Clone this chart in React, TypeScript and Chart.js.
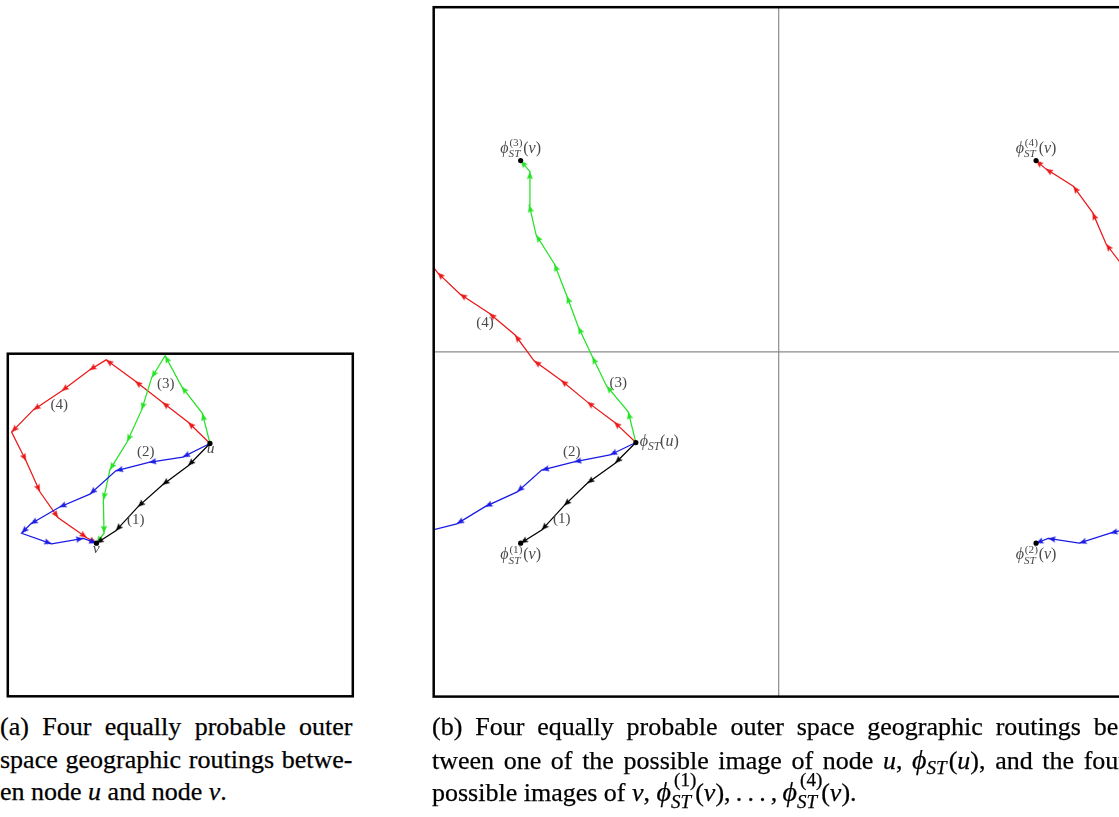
import React, { useEffect, useRef } from 'react';
import { Chart, registerables } from 'chart.js';

Chart.register(...registerables);

type Pt = [number, number];

// ---------- (a) the base square, unit coordinates, origin bottom-left ----------
const A_NODE_U: Pt = [0.586, 0.738];
const A_NODE_V: Pt = [0.257, 0.447];

const A_ROUTE_1: Pt[] = [
  [0.586, 0.738], [0.523, 0.673], [0.448, 0.617], [0.377, 0.553], [0.313, 0.483], [0.257, 0.447],
];
const A_ROUTE_2: Pt[] = [
  [0.586, 0.738], [0.507, 0.698], [0.409, 0.683], [0.313, 0.658], [0.238, 0.59], [0.149, 0.552],
  [0.066, 0.503], [0.04, 0.476], [0.127, 0.445], [0.219, 0.461], [0.257, 0.447],
];
const A_ROUTE_3: Pt[] = [
  [0.586, 0.738], [0.564, 0.826], [0.504, 0.904], [0.456, 0.994], [0.417, 0.93], [0.388, 0.836],
  [0.346, 0.743], [0.296, 0.661], [0.277, 0.573], [0.279, 0.476], [0.257, 0.447],
];
const A_ROUTE_4: Pt[] = [
  [0.586, 0.738], [0.523, 0.8], [0.448, 0.858], [0.369, 0.92], [0.285, 0.982], [0.236, 0.952],
  [0.156, 0.891], [0.074, 0.836], [0.011, 0.771], [0.053, 0.687], [0.093, 0.597], [0.146, 0.521],
  [0.229, 0.463], [0.257, 0.447],
];

const A_ROUTE_TAGS: Pt[] = [[0.371, 0.503], [0.4, 0.702], [0.458, 0.899], [0.149, 0.839]];
const A_U_TAG: Pt = [0.588, 0.709];
const A_V_TAG: Pt = [0.256, 0.418];

// ---------- (b) four images of the square, [0,2] x [0,2] ----------
const B_NODE_U: Pt = [0.586, 0.737];
const B_IMAGES_V: Pt[] = [[0.252, 0.445], [1.746, 0.445], [0.252, 1.555], [1.746, 1.555]];

const B_ROUTE_1: Pt[] = [
  [0.586, 0.737], [0.526, 0.677], [0.445, 0.619], [0.378, 0.554], [0.313, 0.483], [0.252, 0.445],
];
// route (2) leaves through the west side and comes back in through the east side
const B_ROUTE_2_WEST: Pt[] = [
  [0.586, 0.737], [0.511, 0.701], [0.407, 0.681], [0.313, 0.657], [0.242, 0.594], [0.149, 0.551],
  [0.067, 0.501], [-0.039, 0.474],
];
const B_ROUTE_2_EAST: Pt[] = [
  [2.067, 0.501], [1.961, 0.474], [1.871, 0.445], [1.781, 0.459], [1.746, 0.445],
];
const B_ROUTE_3: Pt[] = [
  [0.586, 0.737], [0.564, 0.826], [0.501, 0.901], [0.46, 0.986], [0.419, 1.073], [0.386, 1.162],
  [0.35, 1.255], [0.297, 1.339], [0.277, 1.426], [0.279, 1.523], [0.252, 1.555],
];
const B_ROUTE_4_WEST: Pt[] = [
  [0.586, 0.737], [0.523, 0.797], [0.445, 0.855], [0.369, 0.918], [0.291, 0.974], [0.236, 1.049],
  [0.161, 1.112], [0.076, 1.168], [0.011, 1.23], [-0.051, 1.313],
];
const B_ROUTE_4_EAST: Pt[] = [
  [2.012, 1.23], [1.949, 1.313], [1.91, 1.404], [1.854, 1.481], [1.774, 1.531], [1.746, 1.555],
];

const B_ROUTE_TAGS: Pt[] = [[0.371, 0.503], [0.4, 0.699], [0.535, 0.897], [0.149, 1.073]];
const B_U_TAG: Pt = [0.597, 0.727];
const B_IMAGE_TAGS: Pt[] = [[0.252, 0.398], [1.746, 0.398], [0.252, 1.577], [1.746, 1.577]];
const B_DIVIDERS = [1];

const ROUTE_NAMES = ['(1)', '(2)', '(3)', '(4)'];
const ROUTE_COLORS = ['#000000', 'rgb(26,26,228)', 'rgb(36,226,36)', 'rgb(234,24,24)'];

// ---------- drawing helpers ----------
const SERIF = '"Liberation Serif", "DejaVu Serif", "Times New Roman", serif';
const LABEL_COLOR = '#4a4a4a';

type Run = { t: string; it?: boolean; sz?: number; dy?: number } | { sup: string; sub: string };
type Tag = { at: Pt; runs: Run[]; size: number; align: 'center' | 'left' };

const fontOf = (sz: number, it?: boolean) => `${it ? 'italic ' : ''}${sz}px ${SERIF}`;

function runWidth(ctx: CanvasRenderingContext2D, r: Run, base: number) {
  if ('sup' in r) {
    ctx.font = fontOf(base * 0.7);
    const a = ctx.measureText(r.sup).width + 0.8;
    ctx.font = fontOf(base * 0.7, true);
    const b = ctx.measureText(r.sub).width;
    return Math.max(a, b) + 0.8;
  }
  ctx.font = fontOf(r.sz ?? base, r.it);
  return ctx.measureText(r.t).width;
}

function drawRuns(ctx: CanvasRenderingContext2D, tag: Tag, x: number, y: number) {
  const base = tag.size;
  const total = tag.runs.reduce((s, r) => s + runWidth(ctx, r, base), 0);
  let cx = tag.align === 'center' ? x - total / 2 : x;
  ctx.textAlign = 'left';
  ctx.textBaseline = 'alphabetic';
  for (const r of tag.runs) {
    const w = runWidth(ctx, r, base);
    if ('sup' in r) {
      ctx.font = fontOf(base * 0.7);
      ctx.fillText(r.sup, cx + 0.8, y - base * 0.42);
      ctx.font = fontOf(base * 0.7, true);
      ctx.fillText(r.sub, cx, y + base * 0.27);
    } else {
      ctx.font = fontOf(r.sz ?? base, r.it);
      ctx.fillText(r.t, cx, y + (r.dy ?? 0));
    }
    cx += w;
  }
}

const figurePlugin = {
  id: 'figure',
  beforeDatasetsDraw(chart: any, _args: any, opts: any) {
    const { ctx, chartArea: a, scales } = chart;
    ctx.save();
    ctx.strokeStyle = '#8c8c8c';
    ctx.lineWidth = 1.2;
    (opts.dividers || []).forEach((v: number) => {
      const px = scales.x.getPixelForValue(v);
      const py = scales.y.getPixelForValue(v);
      ctx.beginPath();
      ctx.moveTo(px, a.top);
      ctx.lineTo(px, a.bottom);
      ctx.moveTo(a.left, py);
      ctx.lineTo(a.right, py);
      ctx.stroke();
    });
    ctx.restore();
  },
  afterDatasetsDraw(chart: any, _args: any, opts: any) {
    const { ctx, chartArea: a, scales } = chart;
    ctx.save();
    ctx.strokeStyle = '#000';
    ctx.lineWidth = 2.5;
    ctx.strokeRect(a.left, a.top, a.right - a.left, a.bottom - a.top);
    ctx.fillStyle = LABEL_COLOR;
    (opts.tags || []).forEach((tag: Tag) => {
      drawRuns(ctx, tag, scales.x.getPixelForValue(tag.at[0]), scales.y.getPixelForValue(tag.at[1]));
    });
    ctx.restore();
  },
};

// arrowhead whose tip sits at the centre of the sprite, pointing up
function makeArrow(color: string): HTMLCanvasElement {
  const c = document.createElement('canvas');
  c.width = 18;
  c.height = 18;
  const g = c.getContext('2d')!;
  g.fillStyle = color;
  g.beginPath();
  g.moveTo(9, 9);
  g.lineTo(5.9, 16.6);
  g.lineTo(9, 15.2);
  g.lineTo(12.1, 16.6);
  g.closePath();
  g.fill();
  return c;
}

const arrowRotation = (c: any) => {
  const i = c.dataIndex;
  const d = c.dataset.data;
  if (!i) return 0;
  const xs = c.chart.scales.x;
  const ys = c.chart.scales.y;
  const dx = xs.getPixelForValue(d[i].x) - xs.getPixelForValue(d[i - 1].x);
  const dy = ys.getPixelForValue(d[i].y) - ys.getPixelForValue(d[i - 1].y);
  return (Math.atan2(dx, -dy) * 180) / Math.PI;
};

const toXY = (pts: Pt[]) => pts.map(([x, y]) => ({ x, y }));

function routeDataset(pts: Pt[], routeIndex: number, arrows: HTMLCanvasElement[]) {
  return {
    data: toXY(pts),
    showLine: true,
    borderColor: ROUTE_COLORS[routeIndex],
    borderWidth: 1.25,
    pointStyle: arrows[routeIndex],
    pointRadius: (c: any) => (c.dataIndex === 0 ? 0 : 3),
    pointRotation: arrowRotation,
    pointBorderWidth: 0,
    pointHoverRadius: 0,
  };
}

function nodesDataset(pts: Pt[]) {
  return {
    data: toXY(pts),
    showLine: false,
    pointStyle: 'circle',
    pointRadius: 2.6,
    pointBackgroundColor: '#000',
    pointBorderWidth: 0,
    pointHoverRadius: 0,
  };
}

const routeTag = (at: Pt, i: number): Tag => ({ at, runs: [{ t: ROUTE_NAMES[i] }], size: 15, align: 'center' });

function buildA(arrows: HTMLCanvasElement[]) {
  const tags: Tag[] = [
    ...A_ROUTE_TAGS.map(routeTag),
    { at: A_U_TAG, runs: [{ t: 'u', it: true }], size: 15.5, align: 'center' },
    { at: A_V_TAG, runs: [{ t: 'v', it: true }], size: 15.5, align: 'center' },
  ];
  return {
    datasets: [
      nodesDataset([A_NODE_U, A_NODE_V]),
      routeDataset(A_ROUTE_1, 0, arrows),
      routeDataset(A_ROUTE_2, 1, arrows),
      routeDataset(A_ROUTE_3, 2, arrows),
      routeDataset(A_ROUTE_4, 3, arrows),
    ],
    max: 1,
    dividers: [] as number[],
    tags,
  };
}

function buildB(arrows: HTMLCanvasElement[]) {
  const tags: Tag[] = [
    ...B_ROUTE_TAGS.map(routeTag),
    {
      at: B_U_TAG,
      runs: [{ t: 'ϕ', it: true }, { t: 'ST', it: true, sz: 11.5, dy: 3.6 }, { t: '(' }, { t: 'u', it: true }, { t: ')' }],
      size: 16,
      align: 'left',
    },
    ...B_IMAGE_TAGS.map((at, k): Tag => ({
      at,
      runs: [{ t: 'ϕ', it: true }, { sup: `(${k + 1})`, sub: 'ST' }, { t: '(' }, { t: 'v', it: true }, { t: ')' }],
      size: 16,
      align: 'center',
    })),
  ];
  return {
    datasets: [
      nodesDataset([B_NODE_U, ...B_IMAGES_V]),
      routeDataset(B_ROUTE_1, 0, arrows),
      routeDataset(B_ROUTE_2_WEST, 1, arrows),
      routeDataset(B_ROUTE_2_EAST, 1, arrows),
      routeDataset(B_ROUTE_3, 2, arrows),
      routeDataset(B_ROUTE_4_WEST, 3, arrows),
      routeDataset(B_ROUTE_4_EAST, 3, arrows),
    ],
    max: 2,
    dividers: B_DIVIDERS,
    tags,
  };
}

type Frame = { left: number; top: number; width: number; height: number; pad: { left: number; top: number; right: number; bottom: number } };

function RoutePanel({ frame, build }: { frame: Frame; build: (a: HTMLCanvasElement[]) => any }) {
  const ref = useRef<HTMLCanvasElement>(null);
  useEffect(() => {
    const arrows = ROUTE_COLORS.map(makeArrow);
    const spec = build(arrows);
    const chart = new Chart(ref.current as HTMLCanvasElement, {
      type: 'scatter',
      data: { datasets: spec.datasets },
      options: {
        animation: false,
        responsive: false,
        events: [],
        layout: { padding: frame.pad },
        scales: {
          x: { type: 'linear', min: 0, max: spec.max, display: false },
          y: { type: 'linear', min: 0, max: spec.max, display: false },
        },
        plugins: {
          legend: { display: false },
          tooltip: { enabled: false },
          figure: { dividers: spec.dividers, tags: spec.tags },
        } as any,
      },
      plugins: [figurePlugin as any],
    });
    return () => chart.destroy();
  }, []);
  return (
    <canvas
      ref={ref}
      width={frame.width}
      height={frame.height}
      style={{ position: 'absolute', left: frame.left, top: frame.top, width: frame.width, height: frame.height }}
    />
  );
}

// ---------- captions ----------
const CAP_SIZE = 26;

function CapLine({ left, baseline, width, last, children }: any) {
  return (
    <div
      style={{
        position: 'absolute',
        left,
        top: baseline - 24.8,
        width,
        height: 32,
        lineHeight: '32px',
        fontSize: CAP_SIZE,
        fontFamily: SERIF,
        color: '#000',
        WebkitTextStroke: '0.25px #000',
        textAlign: last ? 'left' : 'justify',
        textAlignLast: last ? 'left' : 'justify',
      } as any}
    >
      {children}
    </div>
  );
}

const I = ({ children }: any) => <span style={{ fontStyle: 'italic' }}>{children}</span>;

function PhiST({ k, arg }: { k?: number; arg: string }) {
  return (
    <>
      <span style={{ fontStyle: 'italic', fontSize: 28 }}>ϕ</span>
      <span style={{ position: 'relative', display: 'inline-block', lineHeight: '26px', marginRight: k ? 4 : 2 }}>
        <span style={{ fontSize: 19, fontStyle: 'italic', position: 'relative', top: k ? 7 : 5 }}>ST</span>
        {k ? (
          <span style={{ fontSize: 19, lineHeight: '19px', position: 'absolute', left: 3, top: -10 }}>({k})</span>
        ) : null}
      </span>
      (<I>{arg}</I>)
    </>
  );
}

const BASELINES = [736, 768.5, 800.5];

export default function App() {
  return (
    <div style={{ position: 'fixed', left: 0, top: 0, width: '100vw', height: '100vh', overflow: 'hidden', background: '#fff' }}>
      <RoutePanel
        frame={{ left: 0, top: 343, width: 364, height: 365, pad: { left: 7.8, top: 10.7, right: 11.2, bottom: 11.7 } }}
        build={buildA}
      />
      <RoutePanel
        frame={{ left: 420, top: 0, width: 720, height: 712, pad: { left: 13.7, top: 7.2, right: 16.3, bottom: 15.4 } }}
        build={buildB}
      />

      <CapLine left={0} baseline={BASELINES[0]} width={352.5}>(a) Four equally probable outer</CapLine>
      <CapLine left={0} baseline={BASELINES[1]} width={352.5}>space geographic routings betwe-</CapLine>
      <CapLine left={0} baseline={BASELINES[2]} width={352.5} last>
        en node <I>u</I> and node <I>v</I>.
      </CapLine>

      <CapLine left={432} baseline={BASELINES[0]} width={695}>
        (b) Four equally probable outer space geographic routings be-
      </CapLine>
      <CapLine left={432} baseline={BASELINES[1]} width={695}>
        tween one of the possible image of node <I>u</I>, <PhiST arg="u" />, and the four
      </CapLine>
      <CapLine left={432} baseline={BASELINES[2]} width={695} last>
        possible images of <I>v</I>, <PhiST k={1} arg="v" />,&#8201;.&#8201;.&#8201;.&#8201;,&#8201;<PhiST k={4} arg="v" />.
      </CapLine>
    </div>
  );
}
